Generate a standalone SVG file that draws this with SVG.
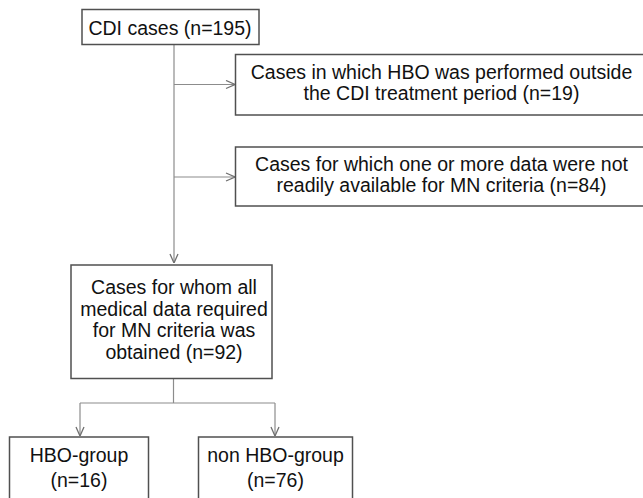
<svg xmlns="http://www.w3.org/2000/svg" width="643" height="498" viewBox="0 0 643 498">
<style>
.box{fill:#fff;stroke:#505050;stroke-width:1.5}
.t{font-family:"Liberation Sans",Arial,sans-serif;font-size:19.5px;fill:#111;text-anchor:middle}
.c{fill:none;stroke:#8c8c8c;stroke-width:1.2}
</style>
<defs>
<marker id="ah" viewBox="0 0 10 10" refX="10" refY="5" markerWidth="10" markerHeight="10" markerUnits="userSpaceOnUse" orient="auto">
<path d="M1,1 L10,5 L1,9" fill="none" stroke="#707070" stroke-width="1.3"/>
</marker>
</defs>
<rect width="643" height="498" fill="#fff"/>
<g id="connectors">
<path class="c" d="M174,44 V263" marker-end="url(#ah)"/>
<path class="c" d="M174,84.5 H235" marker-end="url(#ah)"/>
<path class="c" d="M174,177 H235" marker-end="url(#ah)"/>
<path class="c" d="M173.5,378 V403"/>
<path class="c" d="M80,403 H275"/>
<path class="c" d="M80,403 V436" marker-end="url(#ah)"/>
<path class="c" d="M275,403 V436" marker-end="url(#ah)"/>
</g>
<g id="cdi">
<rect class="box" x="82" y="9.5" width="177" height="35"/>
<text class="t" x="170" y="35">CDI cases (n=195)</text>
</g>
<g id="excl1">
<rect class="box" x="235.5" y="54.5" width="415" height="60.5"/>
<text class="t" x="441.5" y="79">Cases in which HBO was performed outside</text>
<text class="t" x="441.5" y="100">the CDI treatment period (n=19)</text>
</g>
<g id="excl2">
<rect class="box" x="235.5" y="147" width="415" height="59"/>
<text class="t" x="441.5" y="171">Cases for which one or more data were not</text>
<text class="t" x="441.5" y="192">readily available for MN criteria (n=84)</text>
</g>
<g id="included">
<rect class="box" x="71" y="265" width="201" height="113.5"/>
<text class="t" x="174" y="294">Cases for whom all</text>
<text class="t" x="174" y="315.5">medical data required</text>
<text class="t" x="174" y="337">for MN criteria was</text>
<text class="t" x="174" y="358.5">obtained (n=92)</text>
</g>
<g id="hbo">
<rect class="box" x="9.5" y="437" width="139" height="70"/>
<text class="t" x="79" y="461.5">HBO-group</text>
<text class="t" x="79" y="486.5">(n=16)</text>
</g>
<g id="nonhbo">
<rect class="box" x="198.5" y="437" width="154" height="70"/>
<text class="t" x="275.5" y="461.5">non HBO-group</text>
<text class="t" x="275.5" y="486.5">(n=76)</text>
</g>
</svg>
